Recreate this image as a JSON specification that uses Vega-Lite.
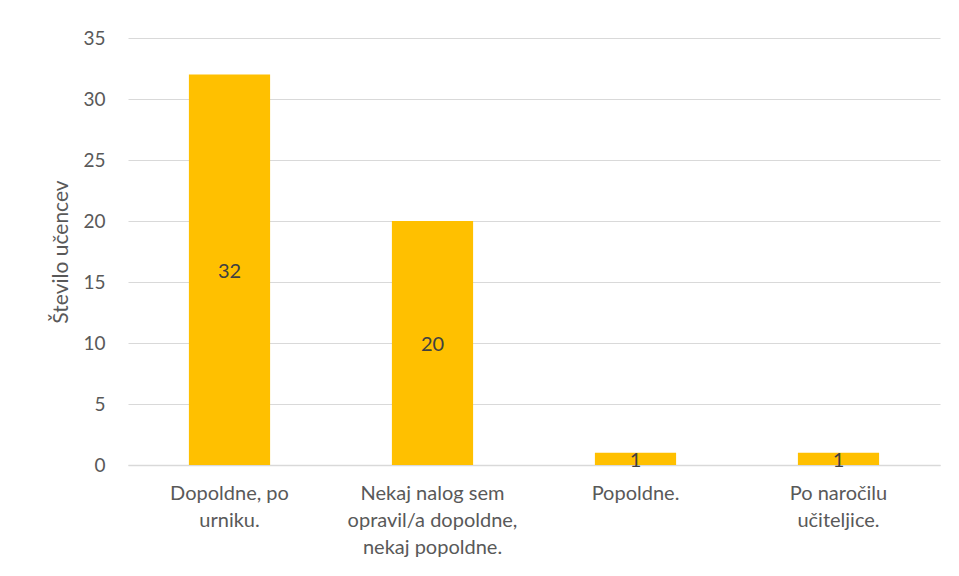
{
  "$schema": "https://vega.github.io/schema/vega-lite/v6.json",
  "width": 812,
  "height": 427,
  "autosize": {"type": "none"},
  "padding": {"left": 128, "top": 38, "right": 19, "bottom": 111},
  "background": "white",
  "config": {
    "view": {"stroke": null},
    "font": "Lato",
    "axis": {"labelFont": "Lato", "titleFont": "Lato", "labelColor": "#595959", "titleColor": "#595959"},
    "axisY": {
      "titleFontSize": 21,
      "titleFontWeight": "normal",
      "titlePadding": 11,
      "labelFontSize": 19,
      "labelPadding": 23,
      "ticks": false,
      "domain": false,
      "grid": true,
      "gridColor": "#d9d9d9",
      "gridWidth": 1.2
    }
  },
  "data": {
    "values": [
      {"kategorija": "Dopoldne, po urniku.", "stevilo": 32},
      {"kategorija": "Nekaj nalog sem opravil/a dopoldne, nekaj popoldne.", "stevilo": 20},
      {"kategorija": "Popoldne.", "stevilo": 1},
      {"kategorija": "Po naročilu učiteljice.", "stevilo": 1}
    ]
  },
  "encoding": {
    "x": {
      "field": "kategorija",
      "type": "nominal",
      "sort": null,
      "scale": {"paddingInner": 0.6, "paddingOuter": 0.3},
      "axis": {
        "title": null,
        "labelAngle": 0,
        "labelFontSize": 20,
        "labelLineHeight": 27,
        "labelPadding": 18,
        "ticks": false,
        "domainColor": "#d9d9d9",
        "domainWidth": 1.5,
        "labelExpr": "datum.value == 'Dopoldne, po urniku.' ? ['Dopoldne, po', 'urniku.'] : datum.value == 'Nekaj nalog sem opravil/a dopoldne, nekaj popoldne.' ? ['Nekaj nalog sem', 'opravil/a dopoldne,', 'nekaj popoldne.'] : datum.value == 'Po naročilu učiteljice.' ? ['Po naročilu', 'učiteljice.'] : datum.value"
      }
    }
  },
  "layer": [
    {
      "mark": {"type": "bar", "color": "#ffc000"},
      "encoding": {
        "y": {
          "field": "stevilo",
          "type": "quantitative",
          "scale": {"domain": [0, 35]},
          "axis": {"title": "Število učencev", "values": [0, 5, 10, 15, 20, 25, 30, 35]}
        }
      }
    },
    {
      "transform": [{"calculate": "datum.stevilo / 2", "as": "polovica"}],
      "mark": {"type": "text", "fontSize": 20, "color": "#404040", "baseline": "middle", "dy": 2},
      "encoding": {
        "y": {
          "field": "polovica",
          "type": "quantitative",
          "scale": {"domain": [0, 35]},
          "axis": {"title": "Število učencev", "values": [0, 5, 10, 15, 20, 25, 30, 35]}
        },
        "text": {"field": "stevilo", "type": "quantitative"}
      }
    }
  ]
}
